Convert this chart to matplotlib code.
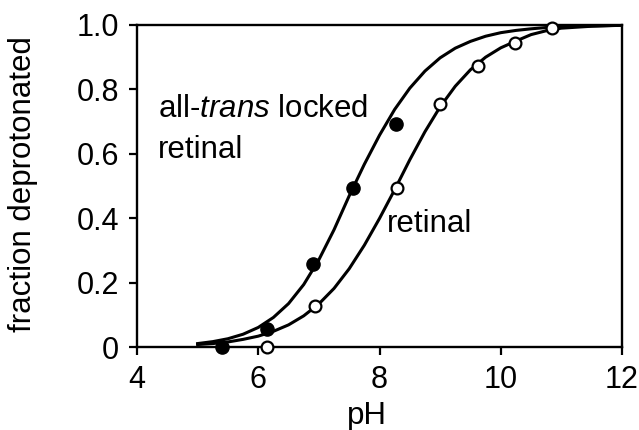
import matplotlib
matplotlib.use("Agg")
import matplotlib.pyplot as plt

plt.rcParams['font.family'] = ['Liberation Sans', 'DejaVu Sans']
plt.rcParams['mathtext.fontset'] = 'custom'
plt.rcParams['mathtext.rm'] = 'Liberation Sans'
plt.rcParams['mathtext.it'] = 'Liberation Sans:italic'

# measured points
locked_ph = [5.40, 6.15, 6.91, 7.56, 8.27]
locked_frac = [0.0, 0.058, 0.258, 0.495, 0.693]
retinal_ph = [6.15, 6.93, 8.29, 8.99, 9.63, 10.24, 10.84]
retinal_frac = [0.0, 0.13, 0.495, 0.754, 0.873, 0.943, 0.992]

# fitted curves
curve_ph = [5.0, 5.25, 5.5, 5.75, 6.0, 6.25, 6.5, 6.75, 7.0, 7.25, 7.5, 7.75,
            8.0, 8.25, 8.5, 8.75, 9.0, 9.25, 9.5, 9.75, 10.0, 10.25, 10.5,
            10.75, 11.0, 11.5, 12.0]
locked_fit = [0.012, 0.018, 0.027, 0.041, 0.062, 0.093, 0.136, 0.195, 0.272,
              0.365, 0.470, 0.568, 0.658, 0.738, 0.804, 0.857, 0.898, 0.928,
              0.949, 0.965, 0.976, 0.983, 0.988, 0.992, 0.995, 0.997, 0.999]
retinal_fit = [0.009, 0.012, 0.017, 0.025, 0.035, 0.050, 0.070, 0.098, 0.135,
               0.183, 0.244, 0.317, 0.400, 0.489, 0.582, 0.669, 0.746, 0.810,
               0.861, 0.900, 0.929, 0.950, 0.970, 0.982, 0.990, 0.996, 0.999]

xticks = [4, 6, 8, 10, 12]
yticks = [0, 0.2, 0.4, 0.6, 0.8, 1.0]
ytick_labels = ['0', '0.2', '0.4', '0.6', '0.8', '1.0']

fig = plt.figure(figsize=(6.39, 4.30), dpi=100)
ax = fig.add_axes([0.2144, 0.192, 0.759, 0.750])

ax.plot(curve_ph, locked_fit, color='black', lw=2.2, zorder=2)
ax.plot(curve_ph, retinal_fit, color='black', lw=2.2, zorder=2)
ax.plot(locked_ph, locked_frac, 'o', color='black', ms=9.5, zorder=3, clip_on=False)
ax.plot(retinal_ph, retinal_frac, 'o', mfc='white', mec='black', mew=1.6,
        ms=8.5, zorder=3, clip_on=False)

ax.set_xlim(4, 12)
ax.set_ylim(0, 1.0)
ax.set_xticks(xticks)
ax.set_yticks(yticks)
ax.set_yticklabels(ytick_labels)
ax.tick_params(direction='out', length=6, width=1.6, labelsize=22, pad=7)
for s in ax.spines.values():
    s.set_linewidth(1.7)

ax.set_xlabel('pH', fontsize=22.5)
ax.set_ylabel('fraction deprotonated', fontsize=22.5)
ax.xaxis.set_label_coords(0.474, -0.165)
ax.yaxis.set_label_coords(-0.205, 0.508)

ax.text(4.35, 0.715, r'all-$\mathit{trans}$ locked', fontsize=22.5)
ax.text(4.35, 0.587, 'retinal', fontsize=22.5)
ax.text(8.12, 0.359, 'retinal', fontsize=22.5)

fig.savefig('out.png', dpi=100)
